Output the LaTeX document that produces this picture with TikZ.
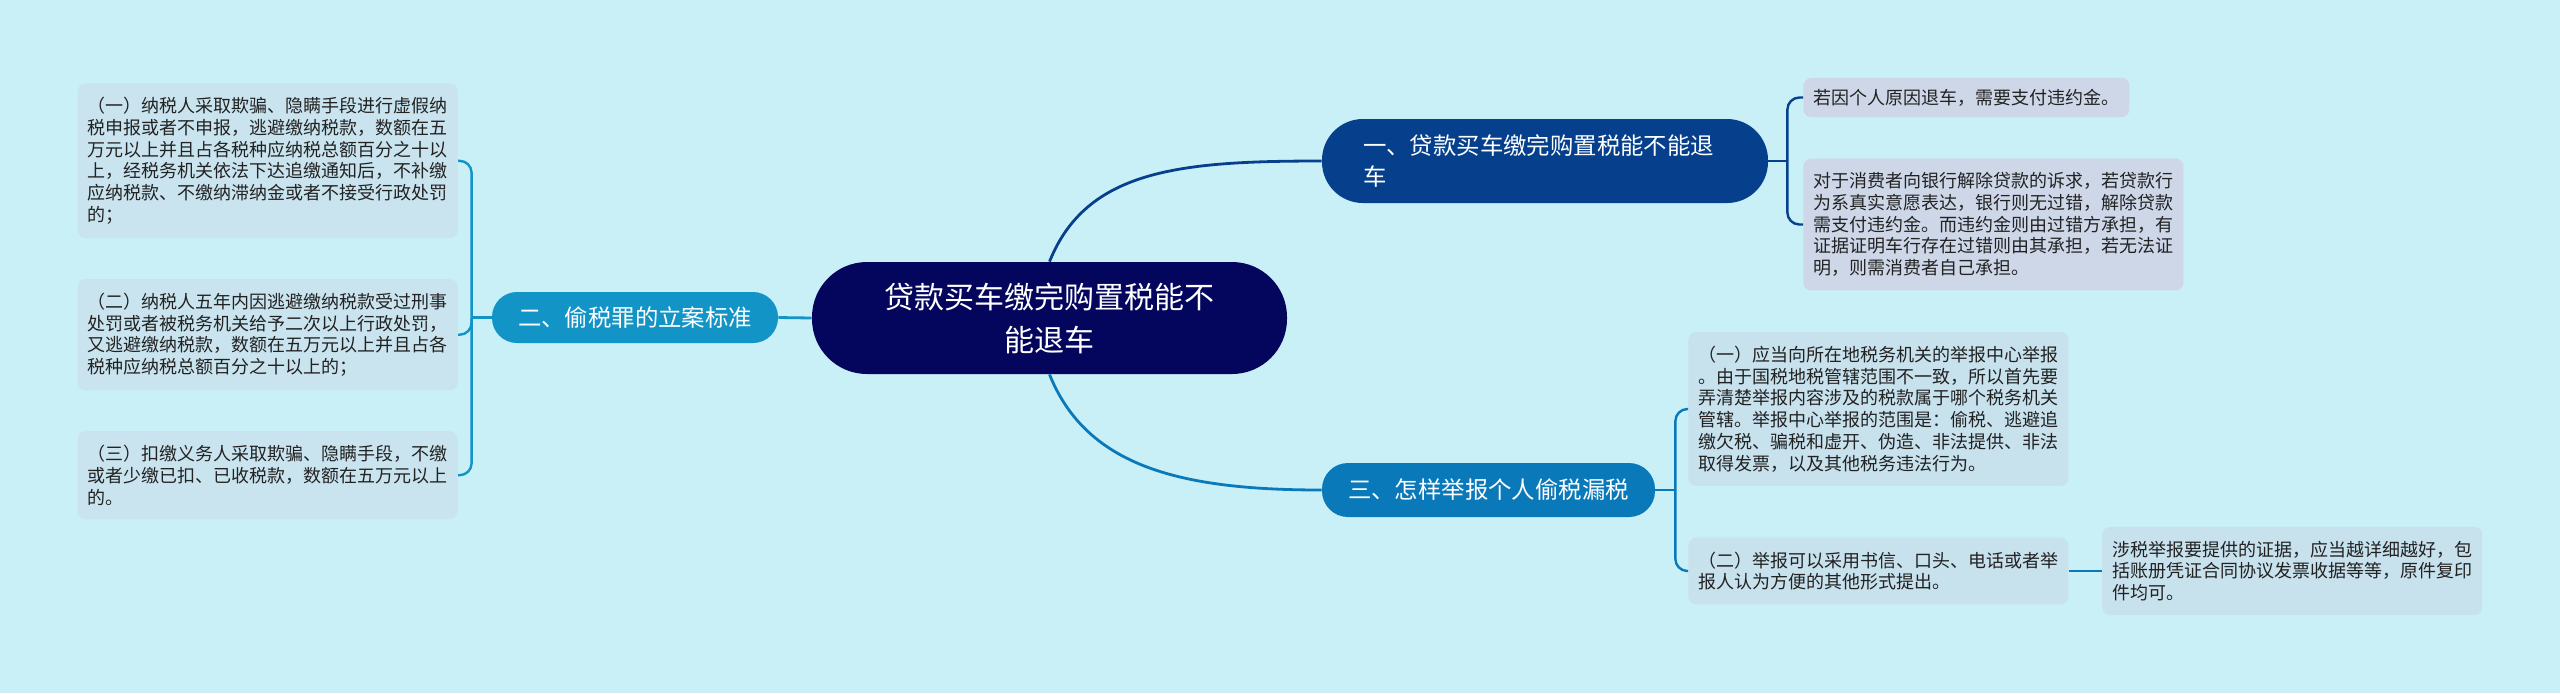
\documentclass[tikz,border=0pt]{standalone}
\usepackage{fontspec}
\setmainfont{Noto Sans CJK SC}
\usetikzlibrary{positioning}

\definecolor{bgcol}{RGB}{201,239,247}
\definecolor{rootcol}{RGB}{3,6,92}
\definecolor{onecol}{RGB}{6,64,140}
\definecolor{twocol}{RGB}{18,148,198}
\definecolor{threecol}{RGB}{10,121,185}
\definecolor{leafone}{RGB}{205,215,232}
\definecolor{leaftwo}{RGB}{201,228,238}
\definecolor{leafthree}{RGB}{199,225,237}
\definecolor{textcol}{RGB}{34,34,34}

\begin{document}
\begin{tikzpicture}[x=0.5pt, y=-0.5pt]
\tikzstyle{leaf} = [rectangle, rounded corners=4pt, align=left, text=textcol,
    inner xsep=5pt, inner ysep=7pt, font=\fontsize{9}{10.85}\selectfont]
\tikzstyle{topic} = [rectangle, text=white, inner xsep=0pt,
    font=\fontsize{11.7}{15.5}\selectfont]
\tikzstyle{link} = [draw, line width=1.4pt]
\tikzstyle{twig} = [draw, line width=1.2pt, rounded corners=6pt]

\useasboundingbox (0,0) rectangle (2560,693);
\fill[bgcol] (0,0) rectangle (2560,693);

% centre and main topics
\node (root) at (1049.5,318) [rectangle, fill=rootcol, text=white, rounded corners=27.5pt,
    minimum width=237.5pt, minimum height=56pt, align=center,
    font=\fontsize{15}{21.5}\selectfont] {贷款买车缴完购置税能不\\能退车};
\node (b1) at (1545,161) [topic, fill=onecol, rounded corners=20.5pt, minimum width=223pt,
    minimum height=42pt, text width=182pt, align=left] {一、贷款买车缴完购置税能不能退\\车};
\node (b2) at (635,317.5) [topic, fill=twocol, rounded corners=12.5pt, minimum width=143pt,
    minimum height=25.5pt] {二、偷税罪的立案标准};
\node (b3) at (1488.5,490) [topic, fill=threecol, rounded corners=13pt, minimum width=166.5pt,
    minimum height=27pt] {三、怎样举报个人偷税漏税};

% left leaves
\node (l1) at (458,83) [leaf, fill=leaftwo, anchor=north east]
    {（一）纳税人采取欺骗、隐瞒手段进行虚假纳\\税申报或者不申报，逃避缴纳税款，数额在五\\万元以上并且占各税种应纳税总额百分之十以\\上，经税务机关依法下达追缴通知后，不补缴\\应纳税款、不缴纳滞纳金或者不接受行政处罚\\的；};
\node (l2) [leaf, fill=leaftwo, below=20pt of l1]
    {（二）纳税人五年内因逃避缴纳税款受过刑事\\处罚或者被税务机关给予二次以上行政处罚，\\又逃避缴纳税款，数额在五万元以上并且占各\\税种应纳税总额百分之十以上的；};
\node (l3) [leaf, fill=leaftwo, below=20pt of l2]
    {（三）扣缴义务人采取欺骗、隐瞒手段，不缴\\或者少缴已扣、已收税款，数额在五万元以上\\的。};

% right leaves
\node (r1a) at (1803,97.5) [leaf, fill=leafone, anchor=west, inner ysep=5.5pt]
    {若因个人原因退车，需要支付违约金。};
\node (r1b) at (1803,224.5) [leaf, fill=leafone, anchor=west]
    {对于消费者向银行解除贷款的诉求，若贷款行\\为系真实意愿表达，银行则无过错，解除贷款\\需支付违约金。而违约金则由过错方承担，有\\证据证明车行存在过错则由其承担，若无法证\\明，则需消费者自己承担。};
\node (r3a) at (1688,409) [leaf, fill=leafthree, anchor=west]
    {（一）应当向所在地税务机关的举报中心举报\\。由于国税地税管辖范围不一致，所以首先要\\弄清楚举报内容涉及的税款属于哪个税务机关\\管辖。举报中心举报的范围是：偷税、逃避追\\缴欠税、骗税和虚开、伪造、非法提供、非法\\取得发票，以及其他税务违法行为。};
\node (r3b) at (1688,571) [leaf, fill=leafthree, anchor=west]
    {（二）举报可以采用书信、口头、电话或者举\\报人认为方便的其他形式提出。};
\node (r3c) [leaf, fill=leafthree, right=16.5pt of r3b]
    {涉税举报要提供的证据，应当越详细越好，包\\括账册凭证合同协议发票收据等等，原件复印\\件均可。};

% connectors
\path[link, draw=onecol] (root.north) .. controls +(37,-92) and +(-142,0) .. (b1.west);
\path[link, draw=threecol] (root.south) .. controls +(37,92) and +(-142,0) .. (b3.west);
\path[link, draw=twocol] (root.west) -- (b2.east);

\path[twig, draw=onecol] (b1.east) -- ++(19,0) coordinate (j1);
\path[twig, draw=onecol] (j1) |- (r1a.west);
\path[twig, draw=onecol] (j1) |- (r1b.west);

\path[twig, draw=twocol] (b2.west) -- ++(-20,0) coordinate (j2);
\path[twig, draw=twocol] (j2) |- (l1.east);
\path[twig, draw=twocol] (j2) |- (l2.east);
\path[twig, draw=twocol] (j2) |- (l3.east);

\path[twig, draw=threecol] (b3.east) -- ++(20,0) coordinate (j3);
\path[twig, draw=threecol] (j3) |- (r3a.west);
\path[twig, draw=threecol] (j3) |- (r3b.west);
\path[twig, draw=threecol] (r3b.east) -- (r3c.west);
\end{tikzpicture}
\end{document}
